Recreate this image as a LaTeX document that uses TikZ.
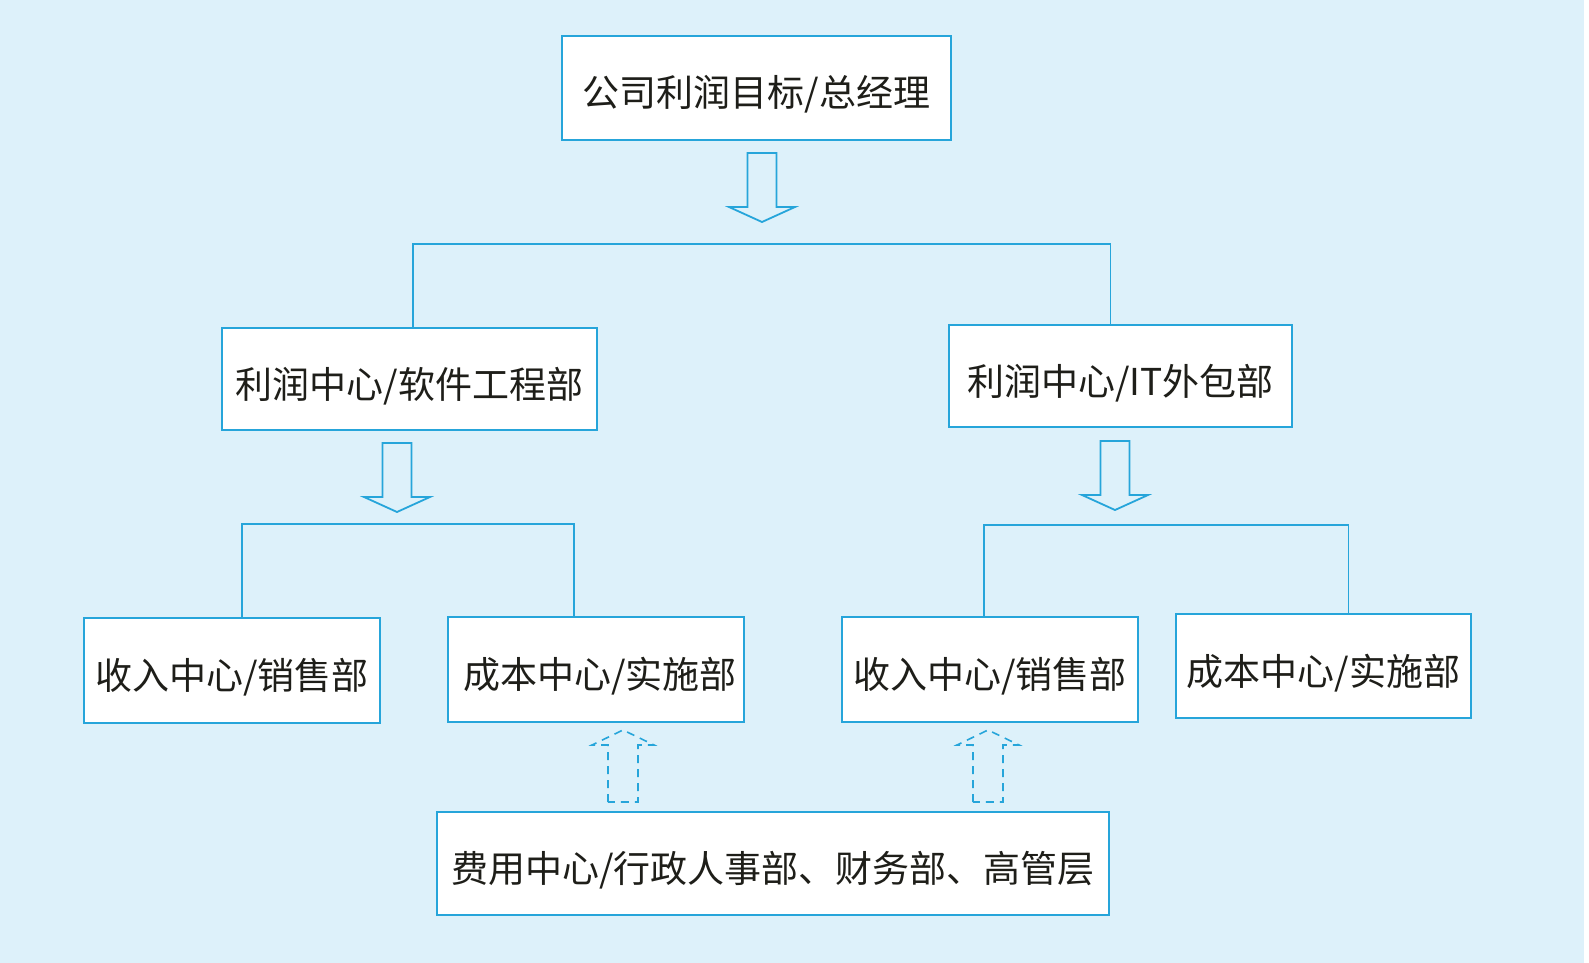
\documentclass[tikz,border=0pt]{standalone}
\usepackage{fontspec}
\newfontfamily\cjk{Noto Sans CJK SC}
\definecolor{bg}{RGB}{221,241,250}
\definecolor{ln}{RGB}{38,165,218}
\definecolor{tx}{RGB}{30,30,25}
\begin{document}
\begin{tikzpicture}[x=1pt,y=-1pt,
  box/.style={draw=ln,line width=1.8pt,fill=white,inner sep=0pt,text height=40pt,text depth=2pt,font=\cjk\fontsize{37}{40}\selectfont,text=tx},
  conn/.style={draw=ln,line width=1.8pt},
  downarr/.pic={\draw[conn,line join=miter] (-14.5,0) -- (-14.5,54) -- (-33,54) -- (0,69) -- (33,54) -- (14.5,54) -- (14.5,0) -- cycle;},
  uparr/.pic={\draw[draw=ln,line width=1.6pt,dash pattern=on 8pt off 6pt] (-15,0) -- (-15,-57) -- (-31,-57) -- (0,-72) -- (31,-57) -- (15,-57) -- (15,0) -- cycle;}
]
\useasboundingbox (0,0) rectangle (1589,963);
\fill[white] (0,0) rectangle (1589,963);
\fill[bg] (0,0) rectangle (1584,963);

\node[box,minimum width=389pt,minimum height=104pt] (top) at (756.5,88) {公司利润目标/总经理};
\node[box,minimum width=375pt,minimum height=102pt] (L1) at (409.5,379) {利润中心/软件工程部};
\node[box,minimum width=343pt,minimum height=102pt] (R1) at (1120.5,376) {利润中心/IT外包部};
\node[box,minimum width=296pt,minimum height=105pt] (A) at (232,670.5) {收入中心/销售部};
\node[box,minimum width=296pt,minimum height=105pt] (B) at (596,669.5) {\hspace{8pt}成本中心/实施部};
\node[box,minimum width=296pt,minimum height=105pt] (C) at (990,669.5) {收入中心/销售部};
\node[box,minimum width=295pt,minimum height=104pt] (D) at (1323.5,666) {成本中心/实施部};
\node[box,minimum width=672pt,minimum height=103pt] (E) at (773,863.5) {费用中心/行政人事部、财务部、高管层};

\coordinate (bar1) at (762,244);
\coordinate (bar2) at (400,524);
\coordinate (bar3) at (1160,525);

\draw[conn] ([xshift=3.5pt]L1.north) |- (bar1) -| ([xshift=-10pt]R1.north);
\draw[conn] ([xshift=10pt]A.north) |- (bar2) -| ([xshift=-22pt]B.north);
\draw[conn] ([xshift=-6pt]C.north) |- (bar3) -| ([xshift=25pt]D.north);

\pic at (762,153) {downarr};
\pic at (397,443) {downarr};
\pic at (1115,441) {downarr};
\pic at (623,802) {uparr};
\pic at (988,802) {uparr};
\end{tikzpicture}
\end{document}
